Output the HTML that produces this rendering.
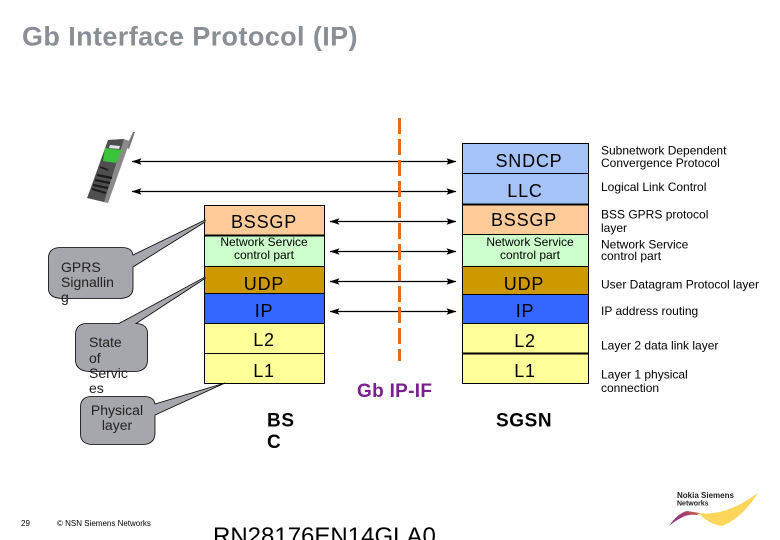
<!DOCTYPE html>
<html><head><meta charset="utf-8"><style>
html,body{margin:0;padding:0;background:#fff}
svg{display:block}
text{font-family:"Liberation Sans",sans-serif}
</style></head><body>
<svg width="780" height="540" viewBox="0 0 780 540" xmlns="http://www.w3.org/2000/svg">
<defs>
<marker id="a" viewBox="0 0 10 7" refX="9.500" refY="3.500" markerWidth="10" markerHeight="7" orient="auto-start-reverse" markerUnits="userSpaceOnUse"><path d="M0 0.300L10 3.500L0 6.700L2 3.500z" fill="#000"/></marker>
<linearGradient id="w" x1="0" y1="1" x2="1" y2="0"><stop offset="0" stop-color="#7a2a90"/><stop offset="0.700" stop-color="#a8406a"/><stop offset="1" stop-color="#d9783a"/></linearGradient>
</defs>
<rect width="780" height="540" fill="#fff"/>
<text x="22" y="45.500" font-size="27" font-weight="bold" letter-spacing="0.400" fill="#8a8f96">Gb Interface Protocol (IP)</text>

<!-- phone -->
<g>
<path d="M133 132L135 132L129 149L126 147z" fill="#777"/>
<path d="M108 140L123 139L130 141L108 203L103 202z" fill="#8a8a8a"/>
<path d="M108 140L124 139L104 202L87 198L90 190z" fill="#4f4f4f"/>
<path d="M105 148L122 150L116 163L103 161z" fill="#3bc43b"/>
<path d="M110 145L120 146L119 149L109 148z" fill="#e4e4e4"/>
<path d="M97 175L112 178M95 180L110 183M93 185L108 188M92 189L106 193" stroke="#1c1c1c" stroke-width="2.200" fill="none"/>
<path d="M100 167L108 170" stroke="#222" stroke-width="2" fill="none"/>
</g>

<!-- arrows -->
<g stroke="#000" stroke-width="1.200">
<line x1="132" y1="161.500" x2="456" y2="161.500" marker-start="url(#a)" marker-end="url(#a)"/>
<line x1="132" y1="191.500" x2="456" y2="191.500" marker-start="url(#a)" marker-end="url(#a)"/>
<line x1="330" y1="221.500" x2="456" y2="221.500" marker-start="url(#a)" marker-end="url(#a)"/>
<line x1="330" y1="251.500" x2="456" y2="251.500" marker-start="url(#a)" marker-end="url(#a)"/>
<line x1="330" y1="281.500" x2="456" y2="281.500" marker-start="url(#a)" marker-end="url(#a)"/>
<line x1="330" y1="311.500" x2="456" y2="311.500" marker-start="url(#a)" marker-end="url(#a)"/>
</g>
<line x1="399.500" y1="118" x2="399.500" y2="361" stroke="#e46c1a" stroke-width="3" stroke-dasharray="16 5"/>

<!-- left stack -->
<g stroke="#000" stroke-width="1">
<rect x="204.500" y="205.500" width="120" height="30" fill="#ffcc99"/>
<rect x="204.500" y="235.500" width="120" height="31" fill="#ccffcc"/>
<rect x="204.500" y="266.500" width="120" height="27" fill="#cc9900"/>
<rect x="204.500" y="293.500" width="120" height="30" fill="#3366ff"/>
<rect x="204.500" y="323.500" width="120" height="30" fill="#ffff99"/>
<rect x="204.500" y="353.500" width="120" height="30" fill="#ffff99"/>
</g>
<!-- right stack -->
<g stroke="#000" stroke-width="1">
<rect x="462.500" y="143.500" width="126" height="30" fill="#a6c3f7"/>
<rect x="462.500" y="173.500" width="126" height="31" fill="#a6c3f7"/>
<rect x="462.500" y="204.500" width="126" height="30" fill="#ffcc99"/>
<rect x="462.500" y="234.500" width="126" height="32" fill="#ccffcc"/>
<rect x="462.500" y="266.500" width="126" height="28" fill="#cc9900"/>
<rect x="462.500" y="294.500" width="126" height="29" fill="#3366ff"/>
<rect x="462.500" y="323.500" width="126" height="30" fill="#ffff99"/>
<rect x="462.500" y="353.500" width="126" height="30" fill="#ffff99"/>
</g>
<line x1="462" y1="204.500" x2="589" y2="204.500" stroke="#000" stroke-width="2"/>
<line x1="462" y1="353.500" x2="589" y2="353.500" stroke="#000" stroke-width="2"/>
<line x1="204" y1="235.500" x2="325" y2="235.500" stroke="#000" stroke-width="2"/>

<!-- callouts -->
<g fill="#a6a6ad" stroke="#000" stroke-width="0.800">
<path d="M60 247.500H122Q132 247.500 133 255L205 220V222L133 267V288Q133 298 120 298.500H62Q48 298 48.500 288V258Q48.500 248 60 247.500z"/>
<path d="M86 323.500H119L205 277V278.500L136 323.500Q148 324 147.500 334V360Q147.500 371 135 371.500H90Q75.500 371 75.500 360V334Q76 324 86 323.500z"/>
<path d="M91 396.500H145Q154 397 155 404L225 383L155 415V433Q155 444 143 444.500H92Q80 444 80.500 433V407Q80.500 397 91 396.500z"/>
</g>

<!-- stack text -->
<g text-anchor="middle" fill="#000">
<g font-size="18" letter-spacing="0.800">
<text x="264" y="228">BSSGP</text>
<text x="264" y="290">UDP</text>
<text x="264" y="317">IP</text>
<text x="264" y="346">L2</text>
<text x="264" y="377">L1</text>
<text x="529" y="167">SNDCP</text>
<text x="525" y="197">LLC</text>
<text x="524" y="226">BSSGP</text>
<text x="524" y="290">UDP</text>
<text x="525" y="317">IP</text>
<text x="525" y="347">L2</text>
<text x="525" y="377">L1</text>
</g>
<g font-size="12">
<text x="264" y="246">Network Service</text>
<text x="264" y="259">control part</text>
<text x="530" y="246">Network Service</text>
<text x="530" y="259">control part</text>
</g>
</g>

<!-- callout text -->
<g font-size="14" fill="#222">
<text x="61" y="272">GPRS</text>
<text x="61" y="287">Signallin</text>
<text x="61" y="302">g</text>
<text x="89" y="347">State</text>
<text x="89" y="363">of</text>
<text x="89" y="378">Servic</text>
<text x="89" y="393">es</text>
<text x="117" y="415" text-anchor="middle">Physical</text>
<text x="117" y="430" text-anchor="middle">layer</text>
</g>

<!-- node labels -->
<g font-size="19" font-weight="bold" fill="#000" letter-spacing="0.600">
<text x="267" y="426.500">BS</text>
<text x="267" y="448">C</text>
<text x="496" y="426.500">SGSN</text>
</g>
<text x="357" y="397" font-size="19" font-weight="bold" letter-spacing="0.300" fill="#7b1f8f">Gb IP-IF</text>

<!-- right labels -->
<g font-size="12" fill="#000">
<text x="601" y="154.500">Subnetwork Dependent</text>
<text x="601" y="167">Convergence Protocol</text>
<text x="601" y="191">Logical Link Control</text>
<text x="601" y="218.500">BSS GPRS protocol</text>
<text x="601" y="232">layer</text>
<text x="601" y="248.500">Network Service</text>
<text x="601" y="260">control part</text>
<text x="601" y="288.500">User Datagram Protocol layer</text>
<text x="601" y="315">IP address routing</text>
<text x="601" y="349.500">Layer 2 data link layer</text>
<text x="601" y="378.500">Layer 1 physical</text>
<text x="601" y="392">connection</text>
</g>

<!-- footer -->
<text x="21" y="526" font-size="8" fill="#000">29</text>
<text x="57" y="526" font-size="8" fill="#000">© NSN Siemens Networks</text>
<text x="213" y="544" font-size="24" fill="#000">RN28176EN14GLA0</text>

<!-- logo -->
<text x="677" y="498" font-size="8" font-weight="bold" fill="#222">Nokia Siemens</text>
<text x="677" y="505.500" font-size="7" font-weight="bold" fill="#222">Networks</text>
<path d="M669 526Q678 513 687 511L700 513L697 515Q688 514 683 517Q676 520 669 526z" fill="url(#w)"/>
<path d="M699 513Q725 517 758 493Q742 518 722 526Q708 524 699 513z" fill="#fbd65a"/>
</svg>
</body></html>
